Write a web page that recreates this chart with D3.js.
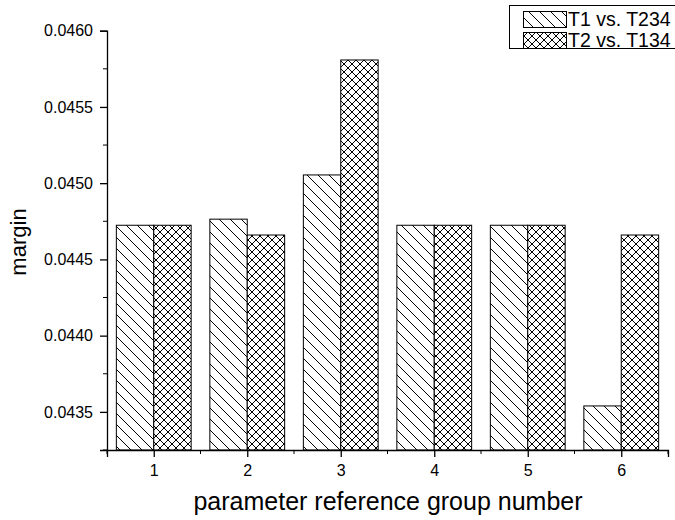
<!DOCTYPE html>
<html>
<head>
<meta charset="utf-8">
<script src="https://cdn.jsdelivr.net/npm/d3@7.9.0/dist/d3.min.js"></script>
<style>
  html, body { margin: 0; padding: 0; background: #fff; }
  svg { display: block; font-family: Arial, "Liberation Sans", sans-serif; }
</style>
</head>
<body>
<svg id="chart" width="675" height="520"></svg>
<script>
// values
const groups = [1, 2, 3, 4, 5, 6];
const t1 = [0.044724, 0.044764, 0.045054, 0.044724, 0.044724, 0.043539];
const t2 = [0.044724, 0.044660, 0.045808, 0.044724, 0.044724, 0.044660];
const seriesNames = ['T1 vs. T234', 'T2 vs. T134'];
const yTicks = [0.0435, 0.0440, 0.0445, 0.0450, 0.0455, 0.0460];

const svg = d3.select('#chart');

const x = d3.scaleLinear().domain([0.5, 6.5]).range([107, 668]);
const y = d3.scaleLinear().domain([0.04325, 0.0460]).range([450, 30.7]);
const barW = 0.4;

// hatch patterns
const defs = svg.append('defs');
const diag = defs.append('pattern')
  .attr('id', 'diag')
  .attr('patternUnits', 'userSpaceOnUse')
  .attr('width', 11).attr('height', 11);
diag.append('rect').attr('width', 11).attr('height', 11).attr('fill', '#fff');
diag.append('path')
  .attr('d', 'M-1,-1 L12,12 M-6,5 L1,12 M5,-6 L12,1')
  .attr('stroke', '#000').attr('stroke-width', 1);

const cross = defs.append('pattern')
  .attr('id', 'cross')
  .attr('patternUnits', 'userSpaceOnUse')
  .attr('width', 8).attr('height', 8);
cross.append('rect').attr('width', 8).attr('height', 8).attr('fill', '#fff');
cross.append('path')
  .attr('d', 'M-1,-1 L9,9 M-5,3 L1,9 M3,-5 L9,1 M-1,9 L9,-1 M-5,5 L1,-1 M3,13 L13,3')
  .attr('stroke', '#000').attr('stroke-width', 1);

const fills = ['url(#diag)', 'url(#cross)'];

// bars
const rows = groups.map((g, i) => ({ g, vals: [t1[i], t2[i]] }));
const bars = svg.append('g');
rows.forEach(r => {
  r.vals.forEach((v, k) => {
    const x0 = k === 0 ? x(r.g - barW) : x(r.g);
    bars.append('rect')
      .attr('x', x0)
      .attr('y', y(v))
      .attr('width', x(r.g + barW) - x(r.g))
      .attr('height', y.range()[0] - y(v))
      .attr('fill', fills[k])
      .attr('stroke', '#000')
      .attr('stroke-width', 1);
  });
});

// y axis with minor ticks
const yAxis = svg.append('g').attr('transform', 'translate(107,0)');
yAxis.call(d3.axisLeft(y).tickValues(yTicks).tickFormat(d3.format('.4f')).tickSize(7).tickPadding(7));
const yMinor = d3.range(0.04325, 0.0460, 0.00025).filter(v => !yTicks.some(t => Math.abs(t - v) < 1e-9));
yAxis.selectAll('.minor').data(yMinor).enter().append('line')
  .attr('class', 'minor')
  .attr('x1', -4).attr('x2', 0)
  .attr('y1', d => y(d)).attr('y2', d => y(d))
  .attr('stroke', '#000');

// x axis with minor ticks
const xAxis = svg.append('g').attr('transform', 'translate(0,450)');
xAxis.call(d3.axisBottom(x).tickValues(groups).tickFormat(d3.format('d')).tickSize(7).tickPadding(8));
const xMinor = groups.slice(0, -1).map(g => g + 0.5).concat([0.5, 6.5]);
xAxis.selectAll('.minor').data(xMinor).enter().append('line')
  .attr('class', 'minor')
  .attr('y1', 0).attr('y2', 4)
  .attr('x1', d => x(d)).attr('x2', d => x(d))
  .attr('stroke', '#000');

svg.selectAll('.domain').attr('stroke', '#000').attr('stroke-width', 1.3);
svg.selectAll('.tick line').attr('stroke', '#000').attr('stroke-width', 1.3);
svg.selectAll('.tick text').attr('font-size', 16).attr('fill', '#000')
  .attr('font-family', 'Arial, "Liberation Sans", sans-serif');

// axis titles
svg.append('text')
  .attr('x', 388).attr('y', 510)
  .attr('text-anchor', 'middle')
  .attr('font-size', 25)
  .text('parameter reference group number');

svg.append('text')
  .attr('transform', 'translate(26,242) rotate(-90)')
  .attr('text-anchor', 'middle')
  .attr('font-size', 22)
  .text('margin');

// legend
const legend = svg.append('g');
legend.append('rect')
  .attr('x', 509.5).attr('y', 5.5)
  .attr('width', 180).attr('height', 43)
  .attr('fill', '#fff').attr('stroke', '#000');
seriesNames.forEach((name, k) => {
  const ly = 11 + k * 21;
  legend.append('rect')
    .attr('x', 523.5).attr('y', ly + 0.5)
    .attr('width', 43).attr('height', 16)
    .attr('fill', fills[k]).attr('stroke', '#000');
  legend.append('text')
    .attr('x', 568).attr('y', ly + 15)
    .attr('font-size', 19.5)
    .text(name);
});
</script>
</body>
</html>
